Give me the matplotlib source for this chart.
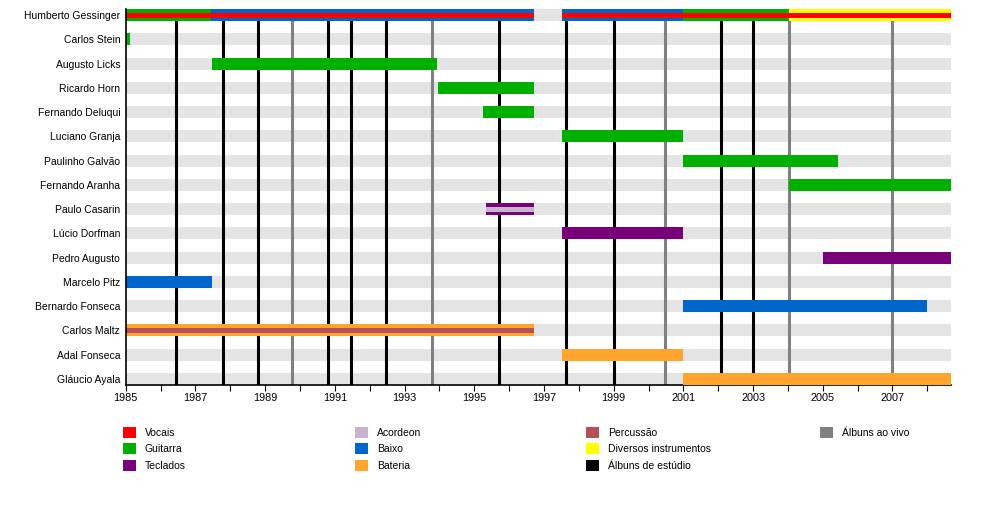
import matplotlib
matplotlib.use("Agg")
import matplotlib.pyplot as plt
from matplotlib.patches import Patch

plt.rcParams['font.family'] = ['Liberation Sans', 'DejaVu Sans']

# ---------------- data ----------------
members = ["Humberto Gessinger", "Carlos Stein", "Augusto Licks", "Ricardo Horn",
           "Fernando Deluqui", "Luciano Granja", "Paulinho Galvão", "Fernando Aranha",
           "Paulo Casarin", "Lúcio Dorfman", "Pedro Augusto", "Marcelo Pitz",
           "Bernardo Fonseca", "Carlos Maltz", "Adal Fonseca", "Gláucio Ayala"]

role_names = ["Vocais", "Guitarra", "Teclados", "Acordeon", "Baixo", "Bateria",
              "Percussão", "Diversos instrumentos"]
role_colors = ["#FF0000", "#00B000", "#780078", "#C8B4CC", "#0066CC", "#FFA42C",
               "#B4505A", "#FFFF00"]

# membership spans: member, start, end, main role, stripe role (None = no stripe)
bar_member = ["Humberto Gessinger"] * 5 + [
    "Carlos Stein", "Augusto Licks", "Ricardo Horn", "Fernando Deluqui",
    "Luciano Granja", "Paulinho Galvão", "Fernando Aranha", "Paulo Casarin",
    "Lúcio Dorfman", "Pedro Augusto", "Marcelo Pitz", "Bernardo Fonseca",
    "Carlos Maltz", "Adal Fonseca", "Gláucio Ayala"]
bar_start = [1985.0, 1987.45, 1997.52, 2001.0, 2004.03,
             1985.0, 1987.48, 1993.96, 1995.26,
             1997.52, 2001.0, 2004.03, 1995.35,
             1997.52, 2005.0, 1985.0, 2001.0,
             1985.0, 1997.52, 2001.0]
bar_end = [1987.45, 1996.72, 2001.0, 2004.03, 2008.67,
           1985.13, 1993.93, 1996.72, 1996.72,
           2001.0, 2005.44, 2008.67, 1996.72,
           2001.0, 2008.67, 1987.47, 2007.98,
           1996.72, 2001.0, 2008.67]
bar_role = ["Guitarra", "Baixo", "Baixo", "Guitarra", "Diversos instrumentos",
            "Guitarra", "Guitarra", "Guitarra", "Guitarra",
            "Guitarra", "Guitarra", "Guitarra", "Teclados",
            "Teclados", "Teclados", "Baixo", "Baixo",
            "Bateria", "Bateria", "Bateria"]
bar_stripe = ["Vocais"] * 5 + [None] * 7 + ["Acordeon"] + [None] * 4 + ["Percussão", None, None]

studio_albums = [1986.45, 1987.80, 1988.80, 1990.81, 1991.47, 1992.48,
                 1995.72, 1997.64, 1999.0, 2002.09, 2003.0]
live_albums = [1989.78, 1993.80, 2000.47, 2004.03, 2007.0]

start_year = 1985.0
end_year = 2008.67
tick_years = list(range(1985, 2009))
label_years = list(range(1985, 2008, 2))

# ---------------- plot ----------------
color_of = dict(zip(role_names, role_colors))
row_of = {m: i for i, m in enumerate(members)}

fig = plt.figure(figsize=(10, 5.08), dpi=100)
ax = fig.add_axes([0.1257, 123 / 508, 0.825, 376 / 508])

bh = 0.49
sh = 0.21
# grey background rows
ax.barh(range(len(members)), [end_year - start_year] * len(members), left=start_year,
        height=bh, color="#E4E4E4", zorder=1)

for x in studio_albums:
    ax.axvline(x, color="black", lw=2.2, zorder=2)
for x in live_albums:
    ax.axvline(x, color="#808080", lw=2.2, zorder=2)

for m, s, e, r, st in zip(bar_member, bar_start, bar_end, bar_role, bar_stripe):
    y = row_of[m]
    ax.barh(y, e - s, left=s, height=bh, color=color_of[r], zorder=3, linewidth=0)
    if st is not None:
        ax.barh(y, e - s, left=s, height=sh, color=color_of[st], zorder=4, linewidth=0)

ax.set_xlim(start_year, end_year)
ax.set_ylim(len(members) - 1 + 0.25, -0.25)
ax.set_yticks(range(len(members)))
ax.set_yticklabels(members, fontsize=7.5)
ax.tick_params(axis="y", length=0, pad=4)
ax.set_xticks(tick_years, minor=True)
ax.set_xticks(label_years)
ax.set_xticklabels([str(y) for y in label_years], fontsize=7.8)
ax.tick_params(axis="x", which="both", length=4, width=0.8, direction="out", pad=2)
for sp in ["top", "right"]:
    ax.spines[sp].set_visible(False)
ax.spines["left"].set_linewidth(1.2)
ax.spines["bottom"].set_linewidth(1.2)
ax.spines["left"].set_zorder(5)

# legend: four single-column blocks
legend_cols = [["Vocais", "Guitarra", "Teclados"],
               ["Acordeon", "Baixo", "Bateria"],
               ["Percussão", "Diversos instrumentos", "Álbuns de estúdio"],
               ["Álbuns ao vivo"]]
extra_colors = {"Álbuns de estúdio": "black", "Álbuns ao vivo": "#808080"}
col_x = [123, 355, 586, 820]
for cx, labels in zip(col_x, legend_cols):
    handles = [Patch(facecolor=color_of.get(l, extra_colors.get(l)), edgecolor="none", label=l)
               for l in labels]
    leg = fig.legend(handles=handles, loc="upper left",
                     bbox_to_anchor=(cx / 1000, (508 - 427) / 508),
                     frameon=False, fontsize=7.5, handlelength=1.25, handleheight=1.25,
                     handletextpad=0.85, labelspacing=0.52, borderpad=0, borderaxespad=0)

fig.savefig("out.png", dpi=100)
